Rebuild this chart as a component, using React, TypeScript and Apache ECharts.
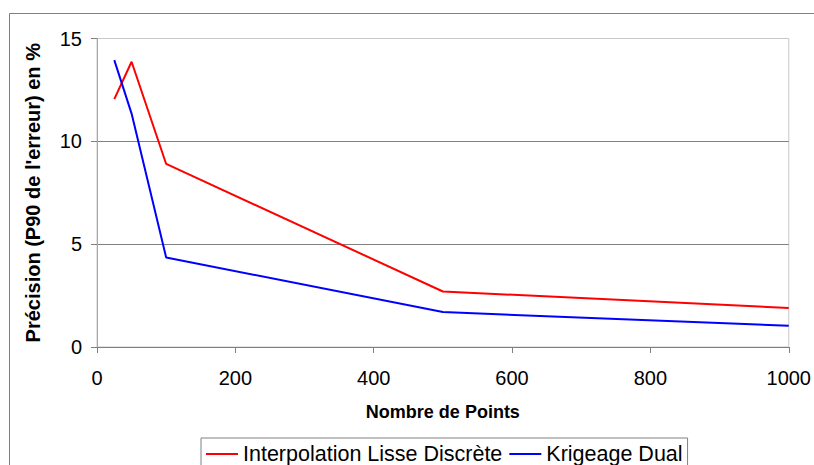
import React, { useEffect, useRef } from "react";
import * as echarts from "echarts";

const xValues = [25, 50, 100, 500, 1000];
const interpolationLisse = [12.05, 13.87, 8.9, 2.7, 1.9];
const krigeageDual = [13.95, 11.35, 4.35, 1.7, 1.03];
const seriesNames = ["Interpolation Lisse Discrète", "Krigeage Dual"];
const xTitle = "Nombre de Points";
const yTitle = "Précision (P90 de l'erreur) en %";

export default function App() {
  const ref = useRef<HTMLDivElement>(null);
  useEffect(() => {
    if (!ref.current) return;
    const chart = echarts.init(ref.current, null, { renderer: "svg", width: 814, height: 465 });
    const font = "Arial, 'Liberation Sans', sans-serif";
    chart.setOption({
      animation: false,
      backgroundColor: "#ffffff",
      textStyle: { fontFamily: font },
      graphic: [
        {
          type: "polyline",
          shape: { points: [[9.5, 465], [9.5, 13.5], [814, 13.5]] },
          style: { fill: "none", stroke: "#808080", lineWidth: 1 },
          silent: true,
          z: -10,
        },
      ],
      grid: {
        left: 97,
        top: 38.5,
        width: 696.5,
        height: 308.5,
        show: true,
        borderColor: "#c8c8c8",
        borderWidth: 1,
        containLabel: false,
      },
      legend: {
        left: 201,
        top: 438,
        padding: [5, 5, 7, 5],
        icon: "rect",
        itemWidth: 32,
        itemHeight: 2,
        itemGap: 7,
        borderColor: "#808080",
        borderWidth: 1,
        borderRadius: 0,
        textStyle: { fontSize: 21.5, color: "#000", fontFamily: font, lineHeight: 21 },
        data: seriesNames,
      },
      xAxis: {
        type: "value",
        min: 0,
        max: 1000,
        interval: 200,
        name: xTitle,
        nameLocation: "middle",
        nameGap: 56,
        nameTextStyle: { fontSize: 18, fontWeight: "bold", color: "#000", fontFamily: font },
        axisLine: { show: true, lineStyle: { color: "#808080", width: 1 } },
        axisTick: { show: true, length: 6, lineStyle: { color: "#808080" } },
        axisLabel: {
          fontSize: 20,
          color: "#000",
          margin: 21,
          fontFamily: font,
          formatter: (v: number) => String(v),
        },
        splitLine: { show: false },
      },
      yAxis: {
        type: "value",
        min: 0,
        max: 15,
        interval: 5,
        name: yTitle,
        nameLocation: "middle",
        nameRotate: 90,
        nameGap: 54,
        nameTextStyle: { fontSize: 20, fontWeight: "bold", color: "#000", fontFamily: font },
        axisLine: { show: true, lineStyle: { color: "#a8a8a8", width: 1 } },
        axisTick: { show: true, length: 6, lineStyle: { color: "#808080" } },
        axisLabel: { fontSize: 20, color: "#000", margin: 15, fontFamily: font },
        splitLine: {
          show: true,
          showMinLine: false,
          showMaxLine: false,
          lineStyle: { color: "#808080", width: 1 },
        },
      },
      series: [
        {
          name: seriesNames[0],
          type: "line",
          data: xValues.map((x, i) => [x, interpolationLisse[i]]),
          symbol: "none",
          lineStyle: { color: "#ff0000", width: 2 },
          itemStyle: { color: "#ff0000" },
        },
        {
          name: seriesNames[1],
          type: "line",
          data: xValues.map((x, i) => [x, krigeageDual[i]]),
          symbol: "none",
          lineStyle: { color: "#0000ff", width: 2 },
          itemStyle: { color: "#0000ff" },
        },
      ],
    });
    return () => chart.dispose();
  }, []);
  return (
    <div
      ref={ref}
      style={{ width: 814, height: 465, position: "absolute", left: 0, top: 0, overflow: "hidden" }}
    />
  );
}
